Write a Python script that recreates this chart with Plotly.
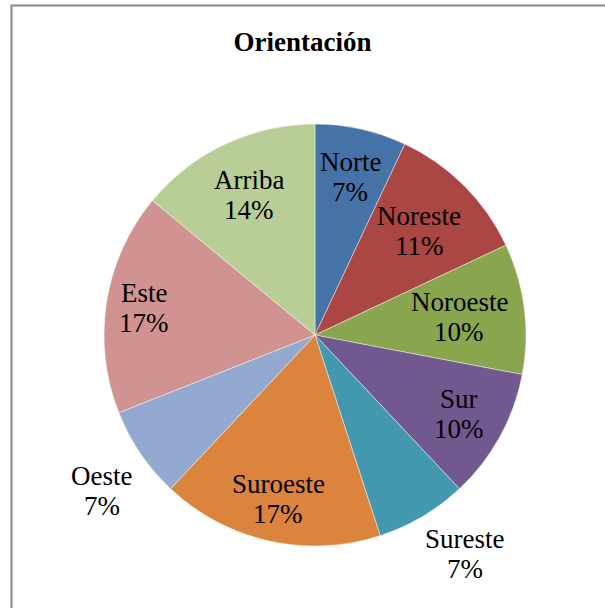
import math
import plotly.graph_objects as go

# Orientation shares (percent)
labels = ["Norte", "Noreste", "Noroeste", "Sur", "Sureste",
          "Suroeste", "Oeste", "Este", "Arriba"]
values = [7, 11, 10, 10, 7, 17, 7, 17, 14]
colors = ["#4572A7", "#AA4643", "#89A54E", "#71588F", "#4198AF",
          "#DB843D", "#93A9CF", "#D19392", "#B9CD96"]

# data-label placement: distance from centre (fraction of radius) and
# a small angular nudge (degrees) away from the slice's mid angle
label_r = [0.766, 0.70, 0.69, 0.778, 1.258, 0.797, 1.251, 0.819, 0.734]
label_nudge = [0, 0, 0, 0, -3.8, 0, -2.0, 0, 0]

W, H = 605, 608
CX, CY = 315, 335          # pie centre in px (from top-left)
R = 211                    # pie radius in px
LINE = 30                  # distance between the two label lines, px

FONT = "Liberation Serif"

fig = go.Figure(go.Pie(
    labels=labels,
    values=values,
    sort=False,
    direction="clockwise",
    rotation=0,
    textinfo="none",
    hoverinfo="label+percent",
    marker=dict(colors=colors, line=dict(color="rgba(255,255,255,0.55)", width=0.8)),
    domain=dict(x=[(CX - R) / W, (CX + R) / W],
                y=[(H - CY - R) / H, (H - CY + R) / H]),
    showlegend=False,
))

# data labels (category name over percentage)
total = sum(values)
annotations = []
cum = 0.0
for name, v, lr, nudge in zip(labels, values, label_r, label_nudge):
    mid = (cum + v / 2) / total * 2 * math.pi + math.radians(nudge)
    cum += v
    r = R * lr
    px = CX + r * math.sin(mid)
    py = CY - r * math.cos(mid)
    for txt, off in ((name, -LINE / 2), (f"{round(v / total * 100)}%", LINE / 2)):
        annotations.append(dict(
            x=px / W, y=1 - (py + off) / H, xref="paper", yref="paper",
            text=txt, showarrow=False, xanchor="center", yanchor="middle",
            font=dict(family=FONT, size=27, color="#000000"),
        ))

fig.update_layout(
    width=W, height=H,
    margin=dict(l=0, r=0, t=0, b=0),
    paper_bgcolor="white",
    plot_bgcolor="white",
    title=dict(text="<b>Orientación</b>", x=0.5, xanchor="center",
               y=1 - 42 / H, yanchor="middle",
               font=dict(family=FONT, size=27, color="#000000")),
    annotations=annotations,
    shapes=[dict(type="rect", xref="paper", yref="paper",
                 x0=11.5 / W, x1=1.05, y0=-0.05, y1=1 - 5.5 / H,
                 line=dict(color="#8A8A8A", width=2), fillcolor="rgba(0,0,0,0)",
                 layer="below")],
)

fig.write_html("out.html")
